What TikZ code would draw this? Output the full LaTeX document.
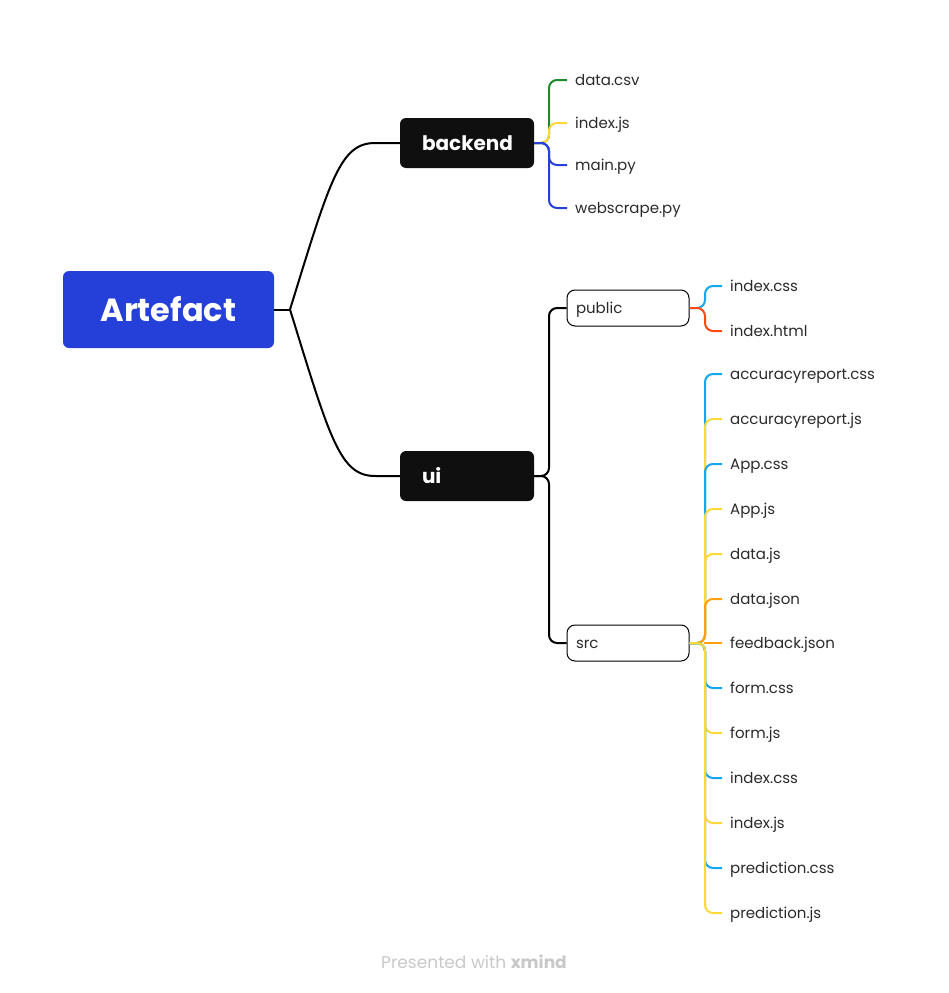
\documentclass[tikz,border=0pt]{standalone}
\usepackage{fontspec}
\setmainfont{Poppins}
\usetikzlibrary{positioning}
\definecolor{rootblue}{HTML}{2440D8}
\definecolor{boxblack}{HTML}{0F0F0F}
\definecolor{cgreen}{HTML}{1F8A2B}
\definecolor{cyellow}{HTML}{FDD83A}
\definecolor{cblue}{HTML}{2440D8}
\definecolor{clblue}{HTML}{14A6EE}
\definecolor{cred}{HTML}{FF4A14}
\definecolor{corange}{HTML}{FFA010}
\definecolor{ctext}{HTML}{2A2A2A}
\definecolor{cfoot}{HTML}{C8C8C8}
\tikzset{
  rootbox/.style={fill=rootblue, rounded corners=6pt, minimum width=211pt, minimum height=77pt, text=white, font=\fontsize{32}{36}\selectfont\bfseries, inner sep=0pt},
  mainbox/.style={fill=boxblack, rounded corners=6pt, minimum height=50pt, text width=90pt, align=left, inner xsep=22pt, inner ysep=0pt, text height=15pt, text depth=0pt, text=white, font=\fontsize{20}{24}\selectfont\bfseries},
  subbox/.style={draw=black, line width=1pt, fill=white, rounded corners=8pt, minimum height=36pt, text width=104pt, align=left, inner xsep=9pt, inner ysep=0pt, text height=13pt, text depth=2pt, text=ctext, font=\fontsize{15}{18}\selectfont},
  leaf/.style={anchor=west, inner sep=0pt, text height=13pt, text depth=2pt, text=ctext, font=\fontsize{15}{18}\selectfont},
  link/.style={line width=2pt, rounded corners=8pt},
  mainlink/.style={line width=2pt, black},
}
\begin{document}
\begin{tikzpicture}[x=1pt, y=-1pt]
\useasboundingbox (0,0) rectangle (948,993);

\node[rootbox] (art) at (168.5,309.5) {Artefact};
\node[mainbox] (backend) at (467,143) {backend};
\node[mainbox] (ui) at (467,476) {ui};
\node[subbox] (public) at (628,308) {public};
\node[subbox] (src) at (628,643) {src};

\coordinate (aj) at (290,309.5);
\coordinate (bj) at (549,143);
\coordinate (uj) at (549,476);
\coordinate (pj) at (705,308);
\coordinate (sj) at (705,643);

% backend leaves
\node[leaf] (b1) at (575,80) {data.csv};
\node[leaf] (b2) at (575,123) {index.js};
\node[leaf] (b3) at (575,165) {main.py};
\node[leaf] (b4) at (575,208) {webscrape.py};

% public leaves
\node[leaf] (p1) at (730,286) {index.css};
\node[leaf] (p2) at (730,331) {index.html};

% src leaves
\node[leaf] (s1) at (730,374) {accuracyreport.css};
\node[leaf] (s2) at (730,419) {accuracyreport.js};
\node[leaf] (s3) at (730,464) {App.css};
\node[leaf] (s4) at (730,509) {App.js};
\node[leaf] (s5) at (730,554) {data.js};
\node[leaf] (s6) at (730,599) {data.json};
\node[leaf] (s7) at (730,643) {feedback.json};
\node[leaf] (s8) at (730,688) {form.css};
\node[leaf] (s9) at (730,733) {form.js};
\node[leaf] (s10) at (730,778) {index.css};
\node[leaf] (s11) at (730,823) {index.js};
\node[leaf] (s12) at (730,868) {prediction.css};
\node[leaf] (s13) at (730,913) {prediction.js};

% root connectors
\draw[mainlink] (art.east) -- (aj);
\draw[mainlink] (aj) .. controls (330,180) and (340,143) .. (375,143) -- (backend.west);
\draw[mainlink] (aj) .. controls (330,439) and (340,476) .. (375,476) -- (ui.west);

% backend connectors
\draw[link, cgreen] (backend.east) -- (bj) |- ([xshift=-8pt]b1.west);
\draw[link, cyellow] (backend.east) -- (bj) |- ([xshift=-8pt]b2.west);
\draw[link, cblue] (backend.east) -- (bj) |- ([xshift=-8pt]b3.west);
\draw[link, cblue] (backend.east) -- (bj) |- ([xshift=-8pt]b4.west);

% ui connectors
\draw[link, black] (ui.east) -- (uj) |- (public.west);
\draw[link, black] (ui.east) -- (uj) |- (src.west);

% public connectors
\draw[link, clblue] (public.east) -- (pj) |- ([xshift=-8pt]p1.west);
\draw[link, cred] (public.east) -- (pj) |- ([xshift=-8pt]p2.west);

% src connectors
\draw[link, clblue] (src.east) -- (sj) |- ([xshift=-8pt]s1.west);
\draw[link, cyellow] (src.east) -- (sj) |- ([xshift=-8pt]s2.west);
\draw[link, clblue] (src.east) -- (sj) |- ([xshift=-8pt]s3.west);
\draw[link, cyellow] (src.east) -- (sj) |- ([xshift=-8pt]s4.west);
\draw[link, cyellow] (src.east) -- (sj) |- ([xshift=-8pt]s5.west);
\draw[link, corange] (src.east) -- (sj) |- ([xshift=-8pt]s6.west);
\draw[line width=2pt, corange] ([xshift=-1pt]sj) -- ([xshift=-8pt]s7.west);
\draw[link, clblue] (src.east) -- (sj) |- ([xshift=-8pt]s8.west);
\draw[link, cyellow] (src.east) -- (sj) |- ([xshift=-8pt]s9.west);
\draw[link, clblue] (src.east) -- (sj) |- ([xshift=-8pt]s10.west);
\draw[link, cyellow] (src.east) -- (sj) |- ([xshift=-8pt]s11.west);
\draw[link, clblue] (src.east) -- (sj) |- ([xshift=-8pt]s12.west);
\draw[link, cyellow] (src.east) -- (sj) |- ([xshift=-8pt]s13.west);

% footer
\node[text=cfoot, font=\fontsize{17}{20}\selectfont] (foot) at (474,962) {Presented with \textbf{xmind}};
\end{tikzpicture}
\end{document}
